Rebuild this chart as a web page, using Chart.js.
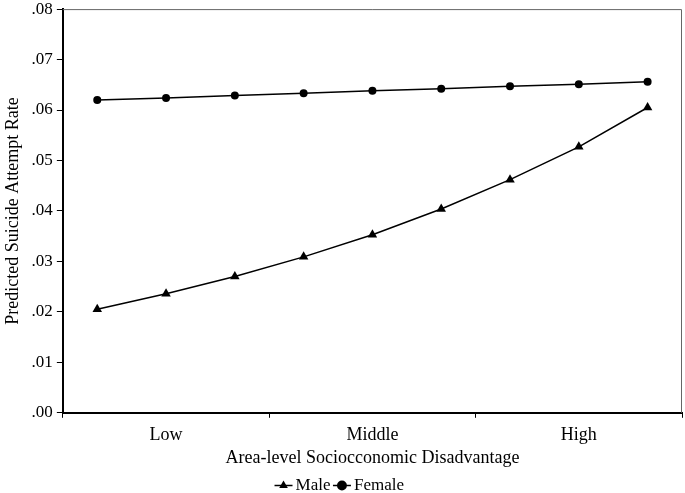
<!DOCTYPE html>
<html>
<head>
<meta charset="utf-8">
<script src="https://cdn.jsdelivr.net/npm/chart.js@4.4.0/dist/chart.umd.min.js"></script>
<style>
  html, body { margin: 0; padding: 0; background: #fff; }
  #wrap { width: 685px; height: 493px; }
</style>
</head>
<body>
<div id="wrap"><canvas id="grafico" width="685" height="493"></canvas></div>
<script>
// Dados
const pontos = ['1', '2', '3', '4', '5', '6', '7', '8', '9'];
const grupos = ['Low', 'Middle', 'High'];
const masculino = [0.0205, 0.0236, 0.0270, 0.0309, 0.0353, 0.0404, 0.0462, 0.0527, 0.0605];
const feminino = [0.0620, 0.0624, 0.0629, 0.0633, 0.0638, 0.0642, 0.0647, 0.0651, 0.0656];

const FONTE = "'Liberation Serif', 'Times New Roman', serif";
Chart.defaults.font.family = FONTE;
Chart.defaults.font.size = 18;
Chart.defaults.color = '#000';

// Moldura cinza (topo e direita) e traço das linhas na legenda
const molduraPlugin = {
    id: 'moldura',
    beforeDatasetsDraw(chart) {
        const { ctx, chartArea: a } = chart;
        ctx.save();
        ctx.strokeStyle = '#666';
        ctx.lineWidth = 1;
        ctx.beginPath();
        ctx.moveTo(a.left, a.top + 0.5);
        ctx.lineTo(a.right - 0.5, a.top + 0.5);
        ctx.lineTo(a.right - 0.5, a.bottom);
        ctx.stroke();
        ctx.restore();
    },
    afterDraw(chart) {
        const leg = chart.legend;
        if (!leg || !leg.legendHitBoxes) return;
        const { ctx } = chart;
        ctx.save();
        ctx.strokeStyle = '#000';
        ctx.lineWidth = 1.5;
        leg.legendHitBoxes.forEach((b) => {
            const cy = b.top + b.height / 2;
            const cx = b.left + leg.options.labels.boxWidth / 2;
            ctx.beginPath();
            ctx.moveTo(cx - 9, cy);
            ctx.lineTo(cx + 9, cy);
            ctx.stroke();
        });
        ctx.restore();
    },
};

new Chart(document.getElementById('grafico'), {
    type: 'line',
    data: {
        labels: pontos,
        datasets: [
            {
                label: 'Male',
                data: masculino,
                borderColor: '#000',
                backgroundColor: '#000',
                borderWidth: 1.5,
                pointStyle: 'triangle',
                pointRadius: 5.5,
                pointBorderWidth: 0,
                tension: 0,
            },
            {
                label: 'Female',
                data: feminino,
                borderColor: '#000',
                backgroundColor: '#000',
                borderWidth: 1.5,
                pointStyle: 'circle',
                pointRadius: 4,
                pointBorderWidth: 0,
                tension: 0,
            },
        ],
    },
    options: {
        responsive: false,
        animation: false,
        layout: {
            autoPadding: false,
            padding: { top: 0, right: 3, left: 2, bottom: -11 },
        },
        plugins: {
            tooltip: { enabled: false },
            legend: {
                position: 'bottom',
                labels: {
                    usePointStyle: true,
                    boxWidth: 7,
                    boxHeight: 7,
                    padding: 8,
                    font: { size: 17 },
                    color: '#000',
                },
            },
        },
        scales: {
            x: {
                type: 'category',
                display: false,
                offset: true,
            },
            xg: {
                type: 'category',
                labels: grupos,
                position: 'bottom',
                offset: true,
                grid: {
                    offset: true,
                    drawOnChartArea: false,
                    drawTicks: true,
                    tickLength: 5,
                    color: '#000',
                },
                border: { color: '#000', width: 2 },
                ticks: { padding: 7, color: '#000' },
                title: {
                    display: true,
                    text: 'Area-level Sociocconomic Disadvantage',
                    padding: { top: -6, bottom: 0 },
                    color: '#000',
                },
            },
            y: {
                min: 0,
                max: 0.08,
                grid: {
                    drawOnChartArea: false,
                    tickLength: 6,
                    color: '#000',
                },
                border: { color: '#000', width: 2 },
                ticks: {
                    stepSize: 0.01,
                    padding: 4,
                    color: '#000',
                    font: { size: 17, lineHeight: 0.6 },
                    callback: (v) => v.toFixed(2).replace('0.', '.'),
                },
                title: {
                    display: true,
                    text: 'Predicted Suicide Attempt Rate',
                    padding: { top: 0, bottom: 4 },
                    color: '#000',
                },
            },
        },
    },
    plugins: [molduraPlugin],
});
</script>
</body>
</html>
